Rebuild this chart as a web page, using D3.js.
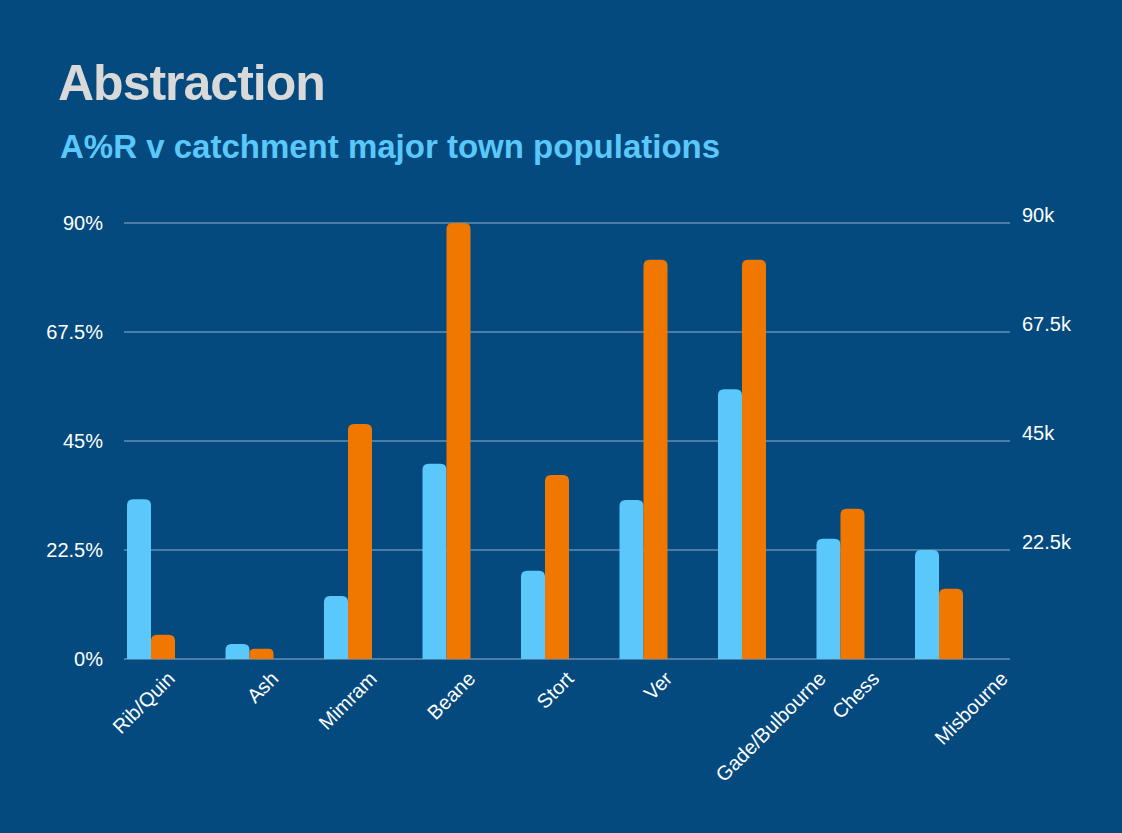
<!DOCTYPE html>
<html><head><meta charset="utf-8">
<script src="https://cdn.jsdelivr.net/npm/d3@7"></script>
<style>body{margin:0;background:#044a7e;}svg{display:block;font-family:"Liberation Sans",Arial,sans-serif;}</style>
</head><body>
<script>
const categories = ["Rib/Quin","Ash","Mimram","Beane","Stort","Ver","Gade/Bulbourne","Chess","Misbourne"];
const arPercent = [33, 3.1, 13, 40.3, 18.2, 32.8, 55.7, 24.8, 22.5];
const populationK = [5, 2.1, 48.5, 90, 38, 82.4, 82.4, 31, 14.5];
const ticks = [0, 22.5, 45, 67.5, 90];
const leftTickLabels = ["0%","22.5%","45%","67.5%","90%"];
const rightTickLabels = ["","22.5k","45k","67.5k","90k"];

(function () {
const W = 1122, H = 833;
const svg = d3.select("body").append("svg").attr("width", W).attr("height", H);
svg.append("rect").attr("width", W).attr("height", H).attr("fill", "#044a7e");

svg.append("text").attr("x", 58).attr("y", 100).attr("fill", "#d9d9d9")
  .attr("font-size", 50).attr("font-weight", "bold").attr("letter-spacing", -1).text("Abstraction");
svg.append("text").attr("x", 60).attr("y", 158).attr("fill", "#5ac8fa")
  .attr("font-size", 33).attr("font-weight", "bold").text("A%R v catchment major town populations");

const plotLeft = 124, plotRight = 1010, plotTop = 223, plotBottom = 659;
const y = d3.scaleLinear().domain([0, 90]).range([plotBottom, plotTop]);
const x = d3.scaleBand().domain(categories).range([plotLeft - 2, plotLeft - 2 + 98.5 * 9]);
const barW = 24;

const grid = svg.append("g");
ticks.forEach((t, i) => {
  grid.append("line").attr("x1", plotLeft).attr("x2", plotRight).attr("y1", y(t)).attr("y2", y(t))
    .attr("stroke", "#8fb0cc").attr("stroke-width", 1.2);
  grid.append("text").attr("x", 103).attr("y", y(t) + 7).attr("text-anchor", "end")
    .attr("fill", "#fff").attr("font-size", 20).text(leftTickLabels[i]);
  grid.append("text").attr("x", 1022).attr("y", y(t) - 1).attr("fill", "#fff")
    .attr("font-size", 20).text(rightTickLabels[i]);
});

function roundTop(x0, y0, w, h) {
  const r = Math.min(6, h / 2, w / 2);
  return `M${x0},${y0 + h}V${y0 + r}Q${x0},${y0} ${x0 + r},${y0}H${x0 + w - r}Q${x0 + w},${y0} ${x0 + w},${y0 + r}V${y0 + h}Z`;
}

const bars = svg.append("g");
categories.forEach((c, i) => {
  const x0 = x(c) + 5;
  bars.append("path").attr("fill", "#5ac8fa")
    .attr("d", roundTop(x0, y(arPercent[i]), barW, plotBottom - y(arPercent[i])));
  bars.append("path").attr("fill", "#f07800")
    .attr("d", roundTop(x0 + barW, y(populationK[i]), barW, plotBottom - y(populationK[i])));
});

const labelOffsets = [35, 40, 40, 40, 40, 40, 95, 50, 80];
categories.forEach((c, i) => {
  const lx = x(c) + 5 + barW + labelOffsets[i] - 10;
  svg.append("text").attr("transform", `translate(${lx},${680}) rotate(-45)`)
    .attr("text-anchor", "end").attr("fill", "#fff").attr("font-size", 20).text(c);
});
})();
</script>
</body></html>
